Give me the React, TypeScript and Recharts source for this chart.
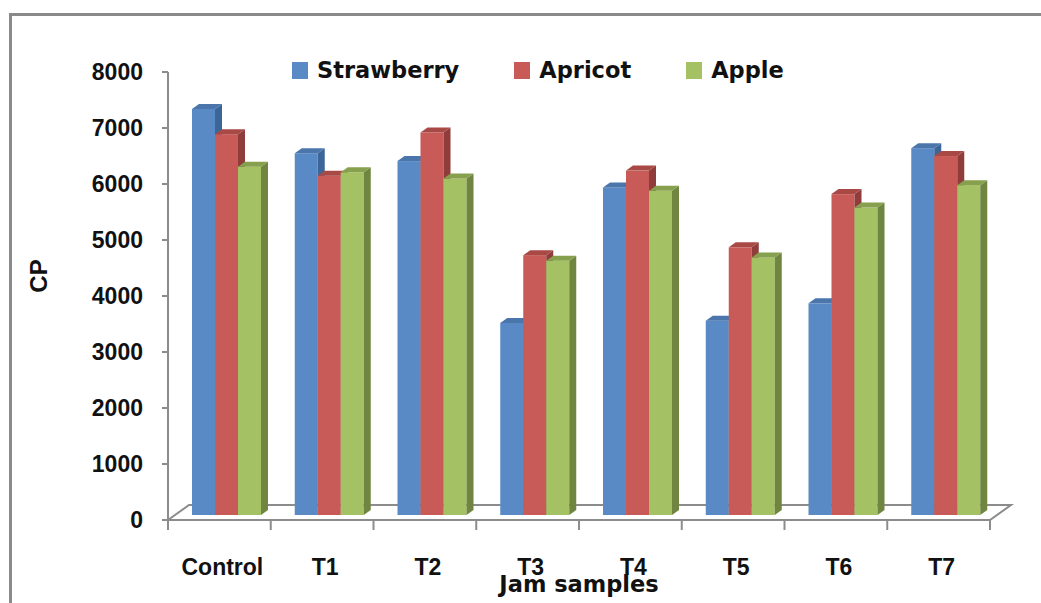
import React from "react"
import { BarChart, Bar, XAxis, YAxis, Legend, usePlotArea } from "recharts"

const categories = ["Control", "T1", "T2", "T3", "T4", "T5", "T6", "T7"]
const strawberry = [7250, 6460, 6320, 3430, 5850, 3470, 3780, 6550]
const apricot = [6800, 6060, 6830, 4640, 6150, 4780, 5730, 6410]
const apple = [6220, 6120, 6010, 4540, 5790, 4600, 5490, 5890]
const yTicks = [0, 1000, 2000, 3000, 4000, 5000, 6000, 7000, 8000]
const seriesOrder = ["Strawberry", "Apricot", "Apple"]

const data = categories.map((name, i) => ({
  name,
  Strawberry: strawberry[i],
  Apricot: apricot[i],
  Apple: apple[i],
}))

// depth of the fake 3d: floor goes back FX/FY, bars sit a third of the way in
const FX = 21
const FY = 15
const DX = 7
const DY = 5

const AXIS = "#8c8c8c"
const FONT = "'Liberation Sans', Arial, sans-serif"

function makeShape(side: string, top: string) {
  return (props: any) => {
    const { x, y, width, height, fill } = props
    if (!height || height <= 0) return null
    const fx = x + DX
    const fy = y - DY
    const r = fx + width
    return (
      <g>
        <rect x={fx} y={fy} width={width} height={height} fill={fill} />
        <polygon
          points={`${r},${fy} ${r + DX},${fy - DY} ${r + DX},${fy + height - DY} ${r},${fy + height}`}
          fill={side}
        />
        <polygon
          points={`${fx},${fy} ${fx + DX},${fy - DY} ${r + DX},${fy - DY} ${r},${fy}`}
          fill={top}
        />
      </g>
    )
  }
}

function Floor() {
  const area = usePlotArea()
  if (!area) return null
  const { x, y, width, height } = area
  const b = y + height
  return (
    <polygon
      points={`${x},${b} ${x + FX},${b - FY} ${x + width + FX},${b - FY} ${x + width},${b}`}
      fill="none"
      stroke={AXIS}
      strokeWidth={2}
    />
  )
}

function CategoryTick(props: any) {
  const { x, y, payload, index, visibleTicksCount } = props
  const half = payload?.offset ?? 51
  const last = index === visibleTicksCount - 1
  return (
    <g>
      <line x1={x - half} y1={y} x2={x - half} y2={y + 10} stroke={AXIS} strokeWidth={2} />
      {last && <line x1={x + half} y1={y} x2={x + half} y2={y + 10} stroke={AXIS} strokeWidth={2} />}
      <text
        x={x + 3}
        y={y + 55}
        textAnchor="middle"
        fontFamily={FONT}
        fontWeight="bold"
        fontSize={23}
        fill="#111"
      >
        {payload.value}
      </text>
    </g>
  )
}

function CpLabel(props: any) {
  const vb = props.viewBox || { x: 0, y: 72, width: 168, height: 448 }
  const cx = vb.x + 38
  const cy = vb.y + vb.height / 2 - 20
  return (
    <text
      x={cx}
      y={cy}
      transform={`rotate(-90 ${cx} ${cy})`}
      textAnchor="middle"
      dominantBaseline="central"
      fontFamily={FONT}
      fontWeight="bold"
      fontSize={24}
      fill="#111"
    >
      CP
    </text>
  )
}

function LegendContent(props: any) {
  const items = [...(props.payload || [])].sort(
    (a: any, b: any) => seriesOrder.indexOf(a.value) - seriesOrder.indexOf(b.value)
  )
  return (
    <div style={{ display: "flex", alignItems: "center", fontFamily: "'DejaVu Sans', sans-serif", fontWeight: "bold", fontSize: 22.5, color: "#111" }}>
      {items.map((it: any) => (
        <div key={it.value} style={{ display: "flex", alignItems: "center", marginRight: 55 }}>
          <span style={{ width: 16, height: 17, background: it.color, display: "inline-block", marginRight: 9 }} />
          <span>{it.value}</span>
        </div>
      ))}
    </div>
  )
}

export default function App() {
  return (
    <div style={{ position: "absolute", left: 0, top: 0, width: 1041, height: 603, overflow: "hidden", background: "#fff" }}>
      <div
        style={{
          position: "absolute",
          left: 9,
          top: 13,
          width: 1100,
          height: 700,
          borderLeft: "3px solid #8a8a8a",
          borderTop: "3px solid #8a8a8a",
        }}
      />
      <div style={{ position: "absolute", left: 0, top: 0 }}>
        <BarChart
          width={1041}
          height={603}
          data={data}
          margin={{ top: 72, right: 51, left: 0, bottom: 0 }}
          barSize={23}
          barGap={0}
        >
          <Floor />
          <YAxis
            width={168}
            domain={[0, 8000]}
            ticks={yTicks}
            interval={0}
            axisLine={{ stroke: AXIS, strokeWidth: 2 }}
            tickLine={{ stroke: AXIS, strokeWidth: 2 }}
            tickSize={6}
            tickMargin={19}
            tick={{ fontFamily: FONT, fontWeight: "bold", fontSize: 23, fill: "#111" }}
            label={<CpLabel />}
          />
          <XAxis
            dataKey="name"
            height={83}
            axisLine={{ stroke: AXIS, strokeWidth: 2 }}
            tickLine={false}
            tickSize={0}
            tickMargin={0}
            interval={0}
            tick={<CategoryTick />}
            label={{
              value: "Jam samples",
              position: "insideBottom",
              offset: 11,
              fontFamily: "'DejaVu Sans', sans-serif",
              fontWeight: "bold",
              fontSize: 22.5,
              fill: "#111",
            }}
          />
          <Legend
            layout="horizontal"
            verticalAlign="middle"
            align="center"
            content={<LegendContent />}
            wrapperStyle={{ top: 57, left: 292, width: "auto" }}
          />
          <Bar dataKey="Strawberry" fill="#5A8AC6" shape={makeShape("#3D6698", "#4A76AC")} isAnimationActive={false} />
          <Bar dataKey="Apricot" fill="#C85B57" shape={makeShape("#8F3C3A", "#A84946")} isAnimationActive={false} />
          <Bar dataKey="Apple" fill="#A4C263" shape={makeShape("#6F8540", "#86A04E")} isAnimationActive={false} />
        </BarChart>
      </div>
    </div>
  )
}
